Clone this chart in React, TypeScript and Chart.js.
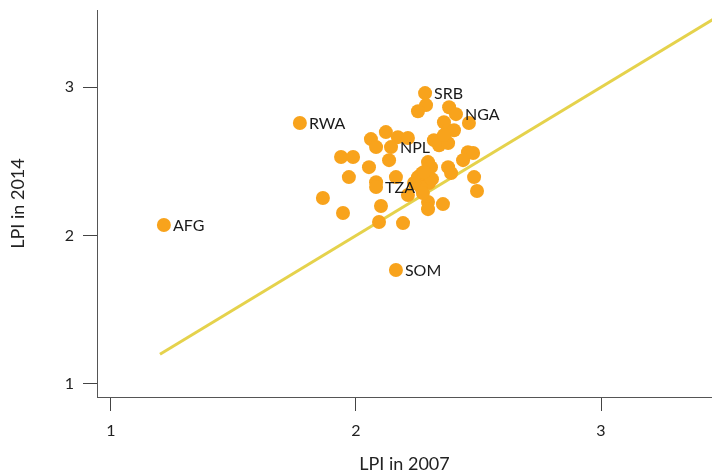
import React, { useEffect, useRef } from "react";
import { Chart, registerables } from "chart.js";

Chart.register(...registerables);

// LPI 2007 (x) and LPI 2014 (y) per country; codes are labels (empty = no label)
const lpi2007: number[] = [
  1.216, 1.771, 2.163, 2.282, 2.286, 2.253, 2.38, 2.408, 2.461, 2.359,
  2.376, 2.4, 2.122, 2.171, 2.212, 2.061, 2.082, 2.143, 2.318, 2.339,
  2.376, 2.457, 2.478, 2.437, 1.939, 1.988, 2.135, 2.053, 2.294, 2.306,
  2.376, 2.388, 2.253, 1.971, 2.082, 2.082, 2.163, 2.298, 2.265, 2.482,
  2.494, 1.865, 1.947, 2.102, 2.212, 2.294, 2.294, 2.355, 2.094, 2.192,
  2.237, 2.27, 2.31, 2.278, 2.273, 2.359,
];
const lpi2014: number[] = [
  2.071, 2.758, 1.768, 2.96, 2.879, 2.838, 2.865, 2.818, 2.758, 2.764,
  2.71, 2.71, 2.697, 2.663, 2.657, 2.65, 2.596, 2.596, 2.643, 2.609,
  2.623, 2.562, 2.556, 2.508, 2.529, 2.529, 2.508, 2.461, 2.495, 2.461,
  2.461, 2.421, 2.394, 2.394, 2.36, 2.327, 2.394, 2.354, 2.327, 2.394,
  2.3, 2.253, 2.152, 2.199, 2.273, 2.226, 2.178, 2.212, 2.091, 2.084,
  2.354, 2.42, 2.38, 2.428, 2.286, 2.677,
];
const codes: string[] = [
  "AFG", "RWA", "SOM", "SRB", "", "", "", "NGA", "", "",
  "", "", "", "", "", "", "", "NPL", "", "",
  "", "", "", "", "", "", "", "", "", "",
  "", "", "", "", "", "TZA", "", "", "", "",
  "", "", "", "", "", "", "", "", "", "",
  "", "", "", "", "", "",
];
const equalLine: number[] = [1.2, 3.6];
const xTicks: number[] = [1, 2, 3];
const yTicks: number[] = [1, 2, 3];

const FONT = "Lato, 'Noto Sans', sans-serif";

const labelPlugin = {
  id: "pointLabels",
  afterDatasetsDraw(chart: any) {
    const meta = chart.getDatasetMeta(1);
    const ctx = chart.ctx;
    ctx.save();
    ctx.font = `16px ${FONT}`;
    ctx.fillStyle = "#1a1a1a";
    ctx.textBaseline = "middle";
    ctx.textAlign = "left";
    meta.data.forEach((el: any, i: number) => {
      const c = codes[i];
      if (!c) return;
      ctx.fillText(c, el.x + 9, el.y + 1);
    });
    ctx.restore();
  },
};

export default function App() {
  const ref = useRef<HTMLCanvasElement | null>(null);
  useEffect(() => {
    if (!ref.current) return;
    const chart = new Chart(ref.current, {
      type: "scatter",
      data: {
        datasets: [
          {
            type: "line",
            data: equalLine.map((v) => ({ x: v, y: v })),
            borderColor: "#e5d24c",
            borderWidth: 3,
            pointRadius: 0,
            fill: false,
            order: 2,
          } as any,
          {
            data: lpi2007.map((x, i) => ({ x, y: lpi2014[i] })),
            backgroundColor: "#f8a31c",
            borderWidth: 0,
            pointRadius: 7,
            order: 1,
          },
        ],
      },
      options: {
        animation: false,
        responsive: true,
        maintainAspectRatio: false,
        layout: { autoPadding: false, padding: { top: 10, right: 0, left: 0, bottom: 0 } },
        plugins: { legend: { display: false }, tooltip: { enabled: false } },
        scales: {
          x: {
            type: "linear",
            min: 0.943,
            max: 3.453,
            afterBuildTicks: (s: any) => {
              s.ticks = xTicks.map((v) => ({ value: v }));
            },
            afterFit: (s: any) => {
              s.height = 78;
              s.paddingLeft = 0;
              s.paddingRight = 0;
            },
            border: { display: true, color: "#555", width: 1 },
            grid: { drawOnChartArea: false, drawTicks: true, tickLength: 14, color: "#444" },
            ticks: {
              color: "#222",
              padding: 10,
              font: { size: 16, family: FONT },
              callback: (v: any) => String(v),
            },
            title: {
              display: true,
              text: "LPI in 2007",
              color: "#222",
              font: { size: 18, family: FONT },
              padding: { top: 0, bottom: 0 },
            },
          },
          y: {
            type: "linear",
            min: 0.912,
            max: 3.52,
            afterBuildTicks: (s: any) => {
              s.ticks = yTicks.map((v) => ({ value: v }));
            },
            afterFit: (s: any) => {
              s.width = 97;
              s.paddingTop = 0;
              s.paddingBottom = 0;
            },
            border: { display: true, color: "#555", width: 1 },
            grid: { drawOnChartArea: false, drawTicks: true, tickLength: 14, color: "#444" },
            ticks: {
              color: "#222",
              padding: 9,
              font: { size: 16, family: FONT },
              callback: (v: any) => String(v),
            },
            title: {
              display: true,
              text: "LPI in 2014",
              color: "#222",
              font: { size: 18, family: FONT },
              padding: { top: 7, bottom: 0 },
            },
          },
        },
      },
      plugins: [labelPlugin],
    });
    return () => chart.destroy();
  }, []);
  return (
    <div style={{ position: "fixed", left: 0, top: 0, width: 712, height: 475, background: "#fff" }}>
      <canvas ref={ref} />
    </div>
  );
}
